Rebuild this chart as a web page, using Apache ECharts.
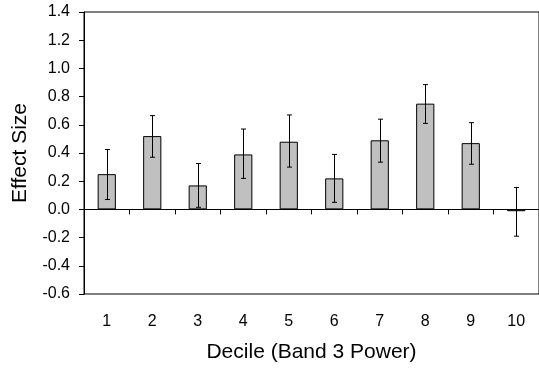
<!DOCTYPE html>
<html>
<head>
<meta charset="utf-8">
<script src="https://cdn.jsdelivr.net/npm/echarts@6/dist/echarts.min.js"></script>
<style>
  html, body { margin: 0; padding: 0; background: #fff; }
  #chart { width: 539px; height: 368px; }
</style>
</head>
<body>
<div id="chart"></div>
<script>
// deciles of band 3 power
const categories = ['1', '2', '3', '4', '5', '6', '7', '8', '9', '10']
// mean effect size per decile
const effect = [0.25, 0.52, 0.17, 0.39, 0.48, 0.22, 0.49, 0.75, 0.47, -0.013]
// error bar ends
const errLow = [0.07, 0.37, 0.015, 0.22, 0.30, 0.05, 0.335, 0.61, 0.32, -0.19]
const errHigh = [0.425, 0.665, 0.325, 0.57, 0.67, 0.39, 0.64, 0.885, 0.615, 0.155]

const font = "'Liberation Sans', Arial, sans-serif"
const gridTop = 12
const gridHeight = 282

const chart = echarts.init(document.getElementById('chart'), null, { renderer: 'canvas' })

const errData = categories.map((c, i) => [i, errLow[i], errHigh[i]])

const option = {
  animation: false,
  backgroundColor: '#fff',
  grid: {
    left: 84,
    top: gridTop,
    width: 457,
    height: gridHeight,
    show: true,
    borderColor: '#000',
    borderWidth: 1
  },
  xAxis: [
    {
      // labels and title along the bottom of the frame
      type: 'category',
      data: categories,
      position: 'bottom',
      axisLine: { show: false, onZero: false },
      axisTick: { show: false },
      axisLabel: {
        show: true,
        interval: 0,
        margin: 20,
        color: '#000',
        fontSize: 16,
        fontFamily: font
      },
      name: 'Decile (Band 3 Power)',
      nameLocation: 'middle',
      nameGap: 48,
      nameTextStyle: { color: '#000', fontSize: 21, fontFamily: font }
    },
    {
      // zero line with ticks at the category boundaries, moved up to y = 0 below
      type: 'value',
      min: 0,
      max: categories.length,
      interval: 1,
      position: 'bottom',
      offset: 0,
      axisLine: { show: true, onZero: false, lineStyle: { color: '#000', width: 1 } },
      axisTick: {
        show: true,
        inside: false,
        length: 5,
        lineStyle: { color: '#000', width: 1 }
      },
      axisLabel: { show: false },
      splitLine: { show: false }
    }
  ],
  yAxis: {
    type: 'value',
    min: -0.6,
    max: 1.4,
    interval: 0.2,
    axisLine: { show: true, lineStyle: { color: '#000', width: 1 } },
    axisTick: { show: true, length: 5, lineStyle: { color: '#000' } },
    splitLine: { show: false },
    axisLabel: {
      margin: 14,
      color: '#000',
      fontSize: 16,
      fontFamily: font,
      formatter: v => v.toFixed(1)
    },
    name: 'Effect Size',
    nameLocation: 'middle',
    nameGap: 53,
    nameTextStyle: { color: '#000', fontSize: 21, fontFamily: font }
  },
  series: [
    {
      type: 'bar',
      xAxisIndex: 0,
      data: effect,
      barWidth: '40%',
      itemStyle: {
        color: '#c0c0c0',
        borderColor: '#000',
        borderWidth: 1
      }
    },
    {
      type: 'custom',
      xAxisIndex: 0,
      data: errData,
      z: 10,
      encode: { x: 0, y: [1, 2] },
      renderItem: (params, api) => {
        const lo = api.coord([api.value(0), api.value(1)])
        const hi = api.coord([api.value(0), api.value(2)])
        const x = Math.round(lo[0]) + 0.5
        const cap = 2.5
        const style = { stroke: '#000', lineWidth: 1 }
        return {
          type: 'group',
          children: [
            { type: 'line', shape: { x1: x, y1: hi[1], x2: x, y2: lo[1] }, style },
            { type: 'line', shape: { x1: x - cap, y1: hi[1], x2: x + cap, y2: hi[1] }, style },
            { type: 'line', shape: { x1: x - cap, y1: lo[1], x2: x + cap, y2: lo[1] }, style }
          ]
        }
      }
    }
  ]
}

chart.setOption(option)

// put the tick axis on the zero line, using the y scale
const zeroY = chart.convertToPixel({ yAxisIndex: 0 }, 0)
chart.setOption({
  xAxis: [{}, { offset: -(gridTop + gridHeight - zeroY) }]
})
</script>
</body>
</html>
